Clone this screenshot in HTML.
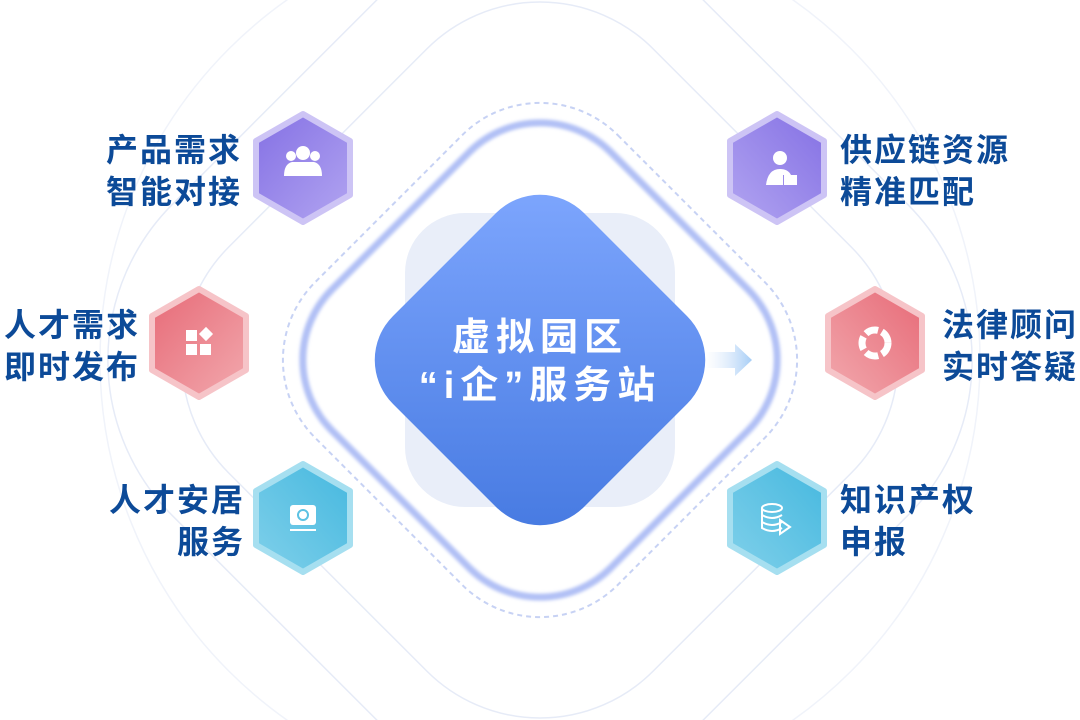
<!DOCTYPE html>
<html><head><meta charset="utf-8"><style>
html,body{margin:0;padding:0;background:#fff;width:1080px;height:720px;overflow:hidden}
svg{display:block}
.t{font-family:"Liberation Sans","Noto Sans CJK SC",sans-serif;font-weight:bold;font-size:32px;letter-spacing:2px;fill:#0c4a98}
.c{font-family:"Liberation Sans","Noto Sans CJK SC",sans-serif;font-weight:bold;font-size:38px;letter-spacing:6px;fill:#fff}
</style></head><body>
<svg width="1080" height="720" viewBox="0 0 1080 720" xmlns="http://www.w3.org/2000/svg">
<defs>
<linearGradient id="pu" x1="0" y1="0" x2="1" y2="1"><stop offset="0" stop-color="#8470e4"/><stop offset="1" stop-color="#b2a5f1"/></linearGradient>
<linearGradient id="pu2" x1="1" y1="0" x2="0" y2="1"><stop offset="0" stop-color="#8470e4"/><stop offset="1" stop-color="#b2a5f1"/></linearGradient>
<linearGradient id="re" x1="0" y1="0" x2="1" y2="1"><stop offset="0" stop-color="#e76a77"/><stop offset="1" stop-color="#f2a9ae"/></linearGradient>
<linearGradient id="re2" x1="1" y1="0" x2="0" y2="1"><stop offset="0" stop-color="#e76a77"/><stop offset="1" stop-color="#f2a9ae"/></linearGradient>
<linearGradient id="cy" x1="1" y1="0" x2="0" y2="1"><stop offset="0" stop-color="#45b8df"/><stop offset="1" stop-color="#80d0ea"/></linearGradient>
<linearGradient id="bl" x1="0" y1="0" x2="1" y2="1"><stop offset="0" stop-color="#80a8ff"/><stop offset="1" stop-color="#4478e0"/></linearGradient>
<linearGradient id="ar" x1="0" y1="0" x2="1" y2="0"><stop offset="0" stop-color="#dbe8fb" stop-opacity="0"/><stop offset="1" stop-color="#a6cdf6"/></linearGradient>
<filter id="bl1"><feGaussianBlur stdDeviation="1.5"/></filter>
</defs>
<g fill="none" stroke="#e6ebf7" stroke-width="1.5">
<rect x="240" y="60" width="600" height="600" rx="160" transform="rotate(45 540 360)"/>
<rect x="170" y="-10" width="740" height="740" rx="220" transform="rotate(45 540 360)"/>
<circle cx="540" cy="360" r="440" stroke="#f0f3fa"/>
</g>
<rect x="326" y="146" width="428" height="428" rx="110" transform="rotate(45 540 360)" fill="none" stroke="#c7d2f4" stroke-width="2" stroke-dasharray="5 4"/>
<rect x="343" y="163" width="394" height="394" rx="100" transform="rotate(45 540 360)" fill="none" stroke="#b1c0f5" stroke-width="7" filter="url(#bl1)"/>
<rect x="405" y="213" width="270" height="294" rx="60" fill="#e9eef9"/>
<rect x="405" y="225" width="270" height="270" rx="62" transform="rotate(45 540 360)" fill="url(#bl)"/>
<text class="c" x="540" y="350" text-anchor="middle">虚拟园区</text>
<text class="c" x="540" y="398" text-anchor="middle">“i企”服务站</text>
<path d="M705 352 L735 352 L735 344 L752 360 L735 376 L735 368 L705 368 Z" fill="url(#ar)"/>
<g stroke-linejoin="round" stroke-width="6">
<polygon points="303,114 350,141 350,195 303,222 256,195 256,141" fill="url(#pu)" stroke="#cdc4f5"/>
<polygon points="199,289 246,316 246,370 199,397 152,370 152,316" fill="url(#re)" stroke="#f6c4c8"/>
<polygon points="303,464 350,491 350,545 303,572 256,545 256,491" fill="url(#cy)" stroke="#a6dff0"/>
<polygon points="777,114 824,141 824,195 777,222 730,195 730,141" fill="url(#pu2)" stroke="#cdc4f5"/>
<polygon points="875,289 922,316 922,370 875,397 828,370 828,316" fill="url(#re2)" stroke="#f6c4c8"/>
<polygon points="777,464 824,491 824,545 777,572 730,545 730,491" fill="url(#cy)" stroke="#a6dff0"/>
</g>
<g fill="#fff">
<circle cx="291" cy="156" r="5"/><circle cx="315" cy="156" r="5"/><circle cx="303" cy="153" r="7"/>
<path d="M284 176 q0-12 8-14 l11 0 l11 0 q8 2 8 14 z"/>
<rect x="186" y="330" width="11" height="11"/><rect x="186" y="344" width="11" height="11"/><rect x="200" y="344" width="11" height="11"/>
<rect x="201" y="329" width="10" height="10" transform="rotate(45 206 334)"/>
<rect x="290" y="505" width="26" height="20" rx="3"/><rect x="290" y="529" width="26" height="2"/>
<circle cx="780" cy="158" r="7"/><path d="M766 185 q2-16 14-16 q8 0 11 6 l-8 0 l0 10 z"/><rect x="784" y="175" width="13" height="10"/>
</g>
<circle cx="303" cy="515" r="5" fill="none" stroke="#5cc2e3" stroke-width="2"/>
<circle cx="875" cy="343" r="13" fill="none" stroke="#fff" stroke-width="7" stroke-dasharray="13 4"/>
<g fill="none" stroke="#fff" stroke-width="2">
<ellipse cx="772" cy="508" rx="10" ry="4"/><path d="M762 508 v20 q10 6 20 0 M762 515 q10 6 20 0 M762 522 q10 6 20 0"/>
<path d="M780 520 l10 7 l-10 7 z"/>
</g>
<text class="t" x="242" y="161" text-anchor="end">产品需求</text>
<text class="t" x="242" y="203" text-anchor="end">智能对接</text>
<text class="t" x="140" y="336" text-anchor="end">人才需求</text>
<text class="t" x="140" y="378" text-anchor="end">即时发布</text>
<text class="t" x="245" y="511" text-anchor="end">人才安居</text>
<text class="t" x="245" y="553" text-anchor="end">服务</text>
<text class="t" x="840" y="161">供应链资源</text>
<text class="t" x="840" y="203">精准匹配</text>
<text class="t" x="942" y="336">法律顾问</text>
<text class="t" x="942" y="378">实时答疑</text>
<text class="t" x="840" y="511">知识产权</text>
<text class="t" x="840" y="553">申报</text>
</svg>
</body></html>
